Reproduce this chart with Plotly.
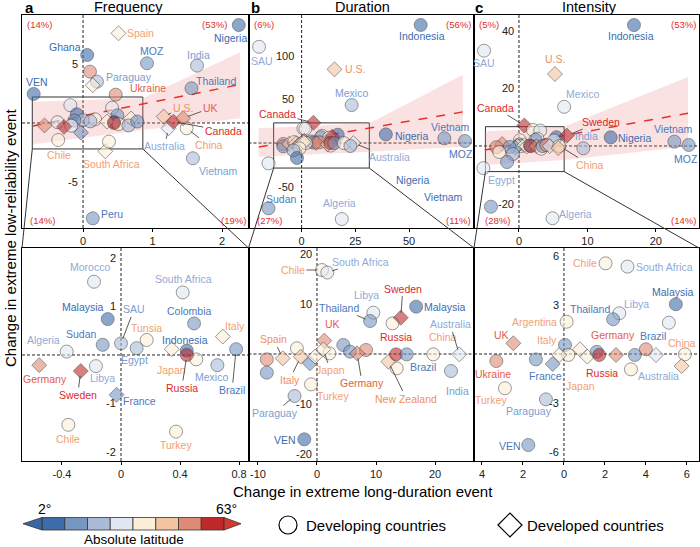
import plotly.graph_objects as go

W, H = 700, 547
FONT = "Liberation Sans, Arial, Helvetica, sans-serif"

# latitude bins (2 deg .. 63 deg, 8 classes)
BIN_FILL = ['#3d6ca9', '#7797c3', '#a9bbd9', '#e0e7f2', '#fcefd9', '#f4c3a0', '#df8a74', '#c0292c']
BIN_TEXT = ['#3b6cb0', '#4c79bb', '#7c9dcf', '#90aad6', '#f2a073', '#ee8f5c', '#e35d48', '#d9292a']

# ---------------- Frequency ----------------
freq_name = ["Australia", "Nigeria", "Spain", "Ghana", "MOZ", "India", "p1", "Paraguay", "p2", "VEN",
             "Thailand", "Ukraine", "China", "U.S.", "Canada", "UK", "Vietnam", "Peru", "p3",
             "Morocco", "South Africa", "Malaysia", "SAU", "Colombia", "Sudan", "Algeria", "Tunsia",
             "Egypt", "Italy", "Indonesia", "Japan", "p4", "Russia", "Mexico", "Brazil", "Germany",
             "Libya", "Sweden", "France", "Chile", "Turkey"]
freq_x = [1.23, 2.24, 0.51, 0.06, 0.92, 1.64, 0.10, 0.20, 0.14, -0.71,
          1.56, 0.47, 1.49, 1.16, 1.30, 1.44, 1.58, 0.14, 0.32,
          -0.183, 0.418, -0.09, 0.0, 0.495, -0.124, -0.368, 0.174,
          0.106, 0.69, 0.446, 0.344, 0.51, 0.446, 0.653, 0.78, -0.554,
          -0.17, -0.273, -0.03, -0.357, 0.373]
freq_y = [-0.45, 8.3, 7.6, 5.76, 5.06, 4.86, 4.35, 3.5, 3.2, 2.46,
          2.94, 2.4, -0.45, 0.54, 0.11, 0.4, -2.99, -8.08, -2.4,
          1.51, 1.29, 0.74, 0.24, 0.65, 0.21, 0.07, 0.31,
          0.14, 0.38, 0.09, 0.12, -0.09, 0.0, -0.21, 0.12, -0.21,
          -0.23, -0.33, -0.82, -1.44, -1.58]
freq_bin = [3, 0, 4, 0, 1, 2, 6, 2, 4, 0,
            1, 6, 4, 5, 7, 6, 2, 1, 4,
            3, 3, 0, 2, 1, 1, 3, 4,
            2, 4, 0, 4, 4, 7, 2, 1, 6,
            3, 7, 1, 4, 4]
freq_dev = [1, 0, 1, 0, 0, 0, 0, 0, 1, 0,
            0, 0, 0, 1, 1, 1, 0, 0, 1,
            0, 0, 0, 0, 0, 0, 0, 0,
            0, 1, 0, 1, 0, 0, 0, 0, 1,
            0, 1, 1, 0, 0]

# ---------------- Duration ----------------
dur_name = ["Indonesia", "SAU", "U.S.", "Mexico", "Canada", "Nigeria", "Vietnam", "MOZ", "Sudan",
            "Algeria", "Egypt", "Chile", "South Africa", "Libya", "Thailand", "Malaysia", "q1",
            "Sweden", "q2", "q3", "q4", "Germany", "UK", "q5", "New Zealand", "Russia", "Brazil",
            "China", "Australia", "India", "q6", "q7", "Spain", "q8", "Italy", "France", "q9",
            "q10", "Japan", "Turkey", "Paraguay", "VEN"]
dur_x = [55.4, -19.8, 15.3, 23.3, 5.5, 39.2, 66.4, 76.0, -15.4,
         18.7, -15.4, 0.85, 1.75, 9.55, 9.0, 16.8, 12.8,
         14.2, 4.46, 5.6, 8.3, 6.8, 1.24, 13.5, 12.1, 13.4, 15.2,
         19.7, 24.1, 22.7, -8.5, -8.5, -5.8, -3.4, -2.76, -1.19, -0.34,
         2.1, 1.07, -1.0, -3.8, -2.15]
dur_y = [134.9, 110.0, 84.2, 43.4, 23.2, 9.9, 5.4, 2.3, -74.6,
         -86.9, -23.2, 16.8, 16.3, 8.27, 6.6, 9.47, 6.13,
         7.27, 1.8, 0.47, 0.8, 0.13, 2.67, -2.87, -1.53, -0.07, -0.07,
         -0.07, -0.07, -3.4, -1.07, -3.73, -0.87, 1.13, -0.53, -1.87, -0.53,
         0.13, 0.93, -6.07, -8.4, -17.07]
dur_bin = [0, 3, 5, 2, 7, 0, 1, 1, 1,
           3, 3, 4, 3, 3, 1, 0, 4,
           7, 1, 1, 6, 6, 6, 4, 5, 7, 1,
           4, 3, 2, 6, 1, 5, 4, 5, 1, 4,
           4, 4, 4, 2, 0]
dur_dev = [0, 0, 1, 0, 1, 0, 0, 0, 0,
           0, 0, 0, 0, 0, 0, 0, 0,
           1, 0, 0, 0, 1, 1, 0, 1, 0, 0,
           0, 1, 0, 0, 0, 1, 0, 1, 1, 1,
           0, 1, 0, 0, 0]

# ---------------- Intensity ----------------
int_name = ["Indonesia", "SAU", "U.S.", "Mexico", "Canada", "India", "Nigeria", "Vietnam", "MOZ",
            "Egypt", "r1", "Algeria", "Chile", "South Africa", "Malaysia", "Sweden", "Libya",
            "Thailand", "Argentina", "r2", "UK", "r3", "r4", "Italy", "France", "r5", "Ukraine",
            "Turkey", "Paraguay", "VEN", "r6", "r7", "r8", "Russia", "Germany", "r9", "Brazil",
            "r10", "Australia", "China", "r11"]
int_x = [16.8, -5.1, 5.26, 6.6, 0.78, 9.4, 13.4, 22.7, 24.8,
         -5.2, -4.1, 4.9, 2.03, 3.1, 5.46, 7.0, 2.7,
         2.4, 0.13, 5.12, -2.47, 0.05, 0.21, -0.23, -0.55, -1.37, -3.3,
         -2.88, -0.88, -1.74, 0.78, 1.14, 1.6, 1.72, 2.54, 3.27, 3.46,
         4.0, 4.49, 5.9, 5.74]
int_y = [42.0, 33.1, 25.0, 13.6, 7.1, -0.8, 3.0, 1.5, 0.35,
         -7.7, -21.1, -25.1, 5.56, 5.36, 3.05, 3.6, 2.5,
         2.13, 1.98, 1.92, 0.66, 0.55, -0.06, -0.06, -0.61, -0.33, -0.43,
         -2.1, -2.78, -5.58, 0.29, -0.16, 0.14, -0.06, -0.06, -0.94, -0.06,
         0.29, -0.06, -0.02, -0.74]
int_bin = [0, 3, 5, 3, 7, 2, 0, 1, 1,
           3, 1, 3, 4, 3, 0, 7, 3,
           1, 4, 3, 6, 1, 4, 4, 1, 1, 6,
           4, 2, 1, 4, 4, 1, 7, 6, 4, 1,
           6, 3, 4, 5]
int_dev = [0, 0, 1, 0, 1, 0, 0, 0, 0,
           0, 0, 0, 0, 0, 0, 1, 0,
           0, 0, 0, 1, 0, 0, 1, 1, 0, 0,
           0, 0, 0, 1, 1, 0, 0, 1, 0, 0,
           0, 1, 0, 1]

# regression line and confidence band (top panels)
reg_x = [[-0.72, 2.21], [-19.9, 75.0], [-5.0, 24.7]]
reg_y = [[-0.25, 3.2], [-4.6, 35.6], [-1.4, 11.4]]
band_x = [[-0.72, 0.86, 2.26], [-20.0, 31.6, 75.0], [-5.0, 6.6, 24.7]]
band_hi = [[1.8, 2.1, 6.0], [16.9, 22.5, 78.0], [5.0, 6.7, 24.0]]
band_lo = [[-1.8, -0.6, 0.4], [-15.7, -10.0, -4.2], [-6.6, -4.9, -0.2]]

# zoom rectangles in top panels
zoom_x = [[-0.73, 0.86], [-13.0, 31.5], [-4.9, 6.6]]
zoom_y = [[-2.2, 2.2], [-28.6, 23.0], [-8.9, 6.7]]

# quadrant shares
quad_text = [["(14%)", "(53%)", "(14%)", "(19%)"],
             ["(6%)", "(56%)", "(27%)", "(11%)"],
             ["(5%)", "(53%)", "(28%)", "(14%)"]]

titles = ["Frequency", "Duration", "Intensity"]
letters = ["a", "b", "c"]

# axis ticks
x_tickvals = [[0, 1, 2], [0, 25, 50], [0, 10, 20], [-0.4, 0, 0.4, 0.8], [-10, 0, 10, 20], [-4, -2, 0, 2, 4, 6]]
x_ticktext = [["0", "1", "2"], ["0", "25", "50"], ["0", "10", "20"], ["-0.4", "0", "0.4", "0.8"],
              ["-10", "0", "10", "20"], ["4", "2", "0", "2", "4", "6"]]
y_tickvals = [[5, -5], [100, 50, -50], [40, 20, -20], [2, 1, -1, -2], [20, 10, -10, -20], [6, 3, -3, -6]]
y_ticktext = [["5", "-5"], ["100", "50", "-50"], ["40", "20", "-20"], ["2", "1", "-1", "-2"],
              ["20", "10", "-10", "-20"], ["6", "3", "-3", "-6"]]

# labels: (point id, text, dx px, dy px (down), leader)
labels = {
    1: [("Nigeria", "Nigeria", -8, 13, 0), ("Spain", "Spain", 22, 0, 0), ("Ghana", "Ghana", -22, -8, 0),
        ("MOZ", "MOZ", 5, -12, 0), ("India", "India", 1, -11, 0), ("Paraguay", "Paraguay", 32, -5, 0),
        ("VEN", "VEN", 3, -12, 0), ("Thailand", "Thailand", 25, -7, 0), ("Ukraine", "Ukraine", 32, -7, 0),
        ("U.S.", "U.S.", 19, -9, 1), ("UK", "UK", 27, -10, 1), ("Canada", "Canada", 50, 9, 1),
        ("China", "China", 22, 17, 1), ("Australia", "Australia", -4, 18, 1), ("Vietnam", "Vietnam", 26, 13, 0),
        ("Chile", "Chile", 1, 15, 0), ("p3", "South Africa", 6, 13, 0), ("Peru", "Peru", 19, -4, 0)],
    2: [("Indonesia", "Indonesia", 1, 11, 0), ("SAU", "SAU", 3, 14, 0), ("U.S.", "U.S.", 21, 0, 0),
        ("Mexico", "Mexico", 0, -12, 0), ("Canada", "Canada", -36, -9, 1), ("Nigeria", "Nigeria", 26, 2, 0),
        ("Vietnam", "Vietnam", 6, -11, 0), ("MOZ", "MOZ", -4, 13, 0), ("Australia", "Australia", 36, 14, 1),
        ("Sudan", "Sudan", 13, -9, 0), ("Algeria", "Algeria", -2, -16, 0)],
    3: [("Indonesia", "Indonesia", -3, 11, 0), ("SAU", "SAU", 0, 12, 0), ("U.S.", "U.S.", 0, -15, 0),
        ("Mexico", "Mexico", 18, -13, 0), ("Canada", "Canada", -29, -18, 1), ("Sweden", "Sweden", 34, -14, 1),
        ("India", "India", 3, -12, 0), ("Nigeria", "Nigeria", 24, 1, 0), ("Vietnam", "Vietnam", -1, -13, 0),
        ("MOZ", "MOZ", -3, 14, 0), ("China", "China", 31, 19, 1), ("Egypt", "Egypt", 18, 12, 0),
        ("Algeria", "Algeria", 23, -4, 0)],
    4: [("Morocco", "Morocco", -4, -15, 0), ("South Africa", "South Africa", 1, -13, 0),
        ("Malaysia", "Malaysia", -25, -12, 0), ("SAU", "SAU", 13, -34, 1), ("Colombia", "Colombia", -5, -12, 0),
        ("Sudan", "Sudan", -21, -11, 0), ("Algeria", "Algeria", -23, -12, 0), ("Tunsia", "Tunsia", 0, -12, 0),
        ("Egypt", "Egypt", -2, 12, 0), ("Italy", "Italy", 12, -11, 0), ("Indonesia", "Indonesia", -2, -11, 0),
        ("Japan", "Japan", 0, 21, 0), ("Russia", "Russia", -5, 33, 1), ("Mexico", "Mexico", -6, 12, 0),
        ("Brazil", "Brazil", -4, 41, 1), ("Germany", "Germany", 6, 14, 0), ("Libya", "Libya", 7, 12, 0),
        ("Sweden", "Sweden", -3, 24, 1), ("France", "France", 23, 6, 0), ("Chile", "Chile", 0, 14, 0),
        ("Turkey", "Turkey", 0, 13, 0)],
    5: [("Chile", "Chile", -29, 0, 1), ("South Africa", "South Africa", 33, -11, 1), ("Libya", "Libya", -7, -18, 0),
        ("Thailand", "Thailand", -31, -13, 1), ("Malaysia", "Malaysia", 29, 0, 0), ("Sweden", "Sweden", 2, -29, 1),
        ("UK", "UK", 8, -17, 0), ("Russia", "Russia", 0, -17, 0), ("China", "China", 10, -17, 0),
        ("Australia", "Australia", -9, -30, 1), ("Brazil", "Brazil", 16, 13, 0), ("Germany", "Germany", 5, 30, 1),
        ("New Zealand", "New Zealand", 18, 37, 1), ("India", "India", 7, 20, 0), ("Spain", "Spain", -9, -19, 1),
        ("Italy", "Italy", -11, 23, 1), ("Japan", "Japan", 7, 21, 1), ("Turkey", "Turkey", 22, 12, 0),
        ("Paraguay", "Paraguay", -20, 17, 1), ("VEN", "VEN", -19, 1, 0)],
    6: [("Chile", "Chile", -21, 0, 0), ("South Africa", "South Africa", 37, 0, 0), ("Malaysia", "Malaysia", -3, -12, 0),
        ("Libya", "Libya", 17, -9, 0), ("Thailand", "Thailand", -23, -10, 0), ("Argentina", "Argentina", -32, 0, 0),
        ("UK", "UK", -12, -8, 0), ("Italy", "Italy", -12, -15, 0), ("Germany", "Germany", -3, -20, 0),
        ("Brazil", "Brazil", 18, -19, 0), ("China", "China", -3, -11, 0), ("France", "France", -7, 12, 0),
        ("r4", "Japan", 12, 31, 0), ("Russia", "Russia", 3, 18, 0), ("Australia", "Australia", 3, 21, 0),
        ("Ukraine", "Ukraine", -3, 13, 0), ("Turkey", "Turkey", -14, 12, 0), ("Paraguay", "Paraguay", -17, 12, 0),
        ("VEN", "VEN", -18, 1, 0)],
}
# stray labels in panel b
extra_text = ["Nigeria", "Vietnam"]
extra_x = [51.7, 66.0]
extra_y = [-42.3, -61.4]

# ---------------- layout geometry (pixels) ----------------
PX_X = [(22, 248.5), (248.5, 474), (474, 699)]
PX_Y = [(15, 228), (248, 461)]
RANGES_X = [[-0.878, 2.38], [-24.7, 80.2], [-6.57, 26.3], [-0.671, 0.864], [-11.6, 26.6], [-4.39, 6.59]]
RANGES_Y = [[-8.9, 9.15], [-97.1, 146.3], [-28.5, 45.5], [-2.186, 2.206], [-21.4, 21.2], [-6.56, 6.5]]


def fx(px):
    return px / W


def fy(py):
    return 1 - py / H


def rgba(hexc, a):
    h = hexc.lstrip('#')
    return f'rgba({int(h[0:2], 16)},{int(h[2:4], 16)},{int(h[4:6], 16)},{a})'


def sfx(n):
    return '' if n == 1 else str(n)


def dom(n):
    col = (n - 1) % 3
    row = (n - 1) // 3
    xd = [fx(PX_X[col][0]), fx(PX_X[col][1])]
    yd = [fy(PX_Y[row][1]), fy(PX_Y[row][0])]
    return xd, yd


def to_paper(n, x, y):
    xd, yd = dom(n)
    xr, yr = RANGES_X[n - 1], RANGES_Y[n - 1]
    return (xd[0] + (x - xr[0]) / (xr[1] - xr[0]) * (xd[1] - xd[0]),
            yd[0] + (y - yr[0]) / (yr[1] - yr[0]) * (yd[1] - yd[0]))


def paper_text(px, py, text, size, xanchor='center', **kw):
    return dict(xref='paper', yref='paper', x=fx(px), y=fy(py), text=text, showarrow=False,
                xanchor=xanchor, yanchor='middle', font=dict(family=FONT, size=size, color='black'), **kw)


fig = go.Figure()
shapes, anns = [], []
datasets = [(freq_name, freq_x, freq_y, freq_bin, freq_dev),
            (dur_name, dur_x, dur_y, dur_bin, dur_dev),
            (int_name, int_x, int_y, int_bin, int_dev)]

for k, (nm, xs, ys, bs, dv) in enumerate(datasets):
    for row in (0, 1):
        n = row * 3 + k + 1
        s = sfx(n)
        if row == 0:
            bx = band_x[k] + band_x[k][::-1]
            by = band_hi[k] + band_lo[k][::-1]
            fig.add_trace(go.Scatter(x=bx, y=by, xaxis='x' + s, yaxis='y' + s, mode='lines', fill='toself',
                                     fillcolor='rgba(240,140,140,0.25)', line=dict(width=0),
                                     hoverinfo='skip', showlegend=False))
            fig.add_trace(go.Scatter(x=reg_x[k], y=reg_y[k], xaxis='x' + s, yaxis='y' + s, mode='lines',
                                     line=dict(color='#e8312a', width=1.5, dash='dash'),
                                     hoverinfo='skip', showlegend=False))
        fig.add_trace(go.Scatter(
            x=xs, y=ys, xaxis='x' + s, yaxis='y' + s, mode='markers', text=nm, showlegend=False,
            cliponaxis=True,
            marker=dict(color=[rgba(BIN_FILL[b], 0.85) for b in bs],
                        symbol=['diamond' if d else 'circle' for d in dv],
                        size=[11.5 if d else 13 for d in dv],
                        line=dict(color='rgba(45,45,45,0.85)', width=0.8))))
        # labels
        for pid, txt, dx, dy, lead in labels[n]:
            i = nm.index(pid)
            common = dict(x=xs[i], y=ys[i], xref='x' + s, yref='y' + s, text=txt,
                          font=dict(family=FONT, size=10.5, color=BIN_TEXT[bs[i]]))
            if lead:
                anns.append(dict(**common, showarrow=True, arrowhead=0, arrowwidth=0.8, arrowcolor='#333',
                                 ax=dx, ay=dy, standoff=5))
            else:
                anns.append(dict(**common, showarrow=False, xshift=dx, yshift=-dy))

# stray labels
for t, x, y in zip(extra_text, extra_x, extra_y):
    anns.append(dict(x=x, y=y, xref='x2', yref='y2', text=t, showarrow=False,
                     font=dict(family=FONT, size=10.5, color=BIN_TEXT[0])))

# axes
layout_axes = {}
for n in range(1, 7):
    s = sfx(n)
    xd, yd = dom(n)
    layout_axes['xaxis' + s] = dict(domain=xd, range=RANGES_X[n - 1], showgrid=False, zeroline=False,
                                    showline=True, mirror=True, linecolor='black', linewidth=1,
                                    ticks='outside', ticklen=3, tickwidth=1, tickcolor='black',
                                    tickvals=x_tickvals[n - 1], ticktext=x_ticktext[n - 1],
                                    tickfont=dict(family=FONT, size=11, color='#222'),
                                    anchor='y' + s, fixedrange=True, automargin=False)
    layout_axes['yaxis' + s] = dict(domain=yd, range=RANGES_Y[n - 1], showgrid=False, zeroline=False,
                                    showline=True, mirror=True, linecolor='black', linewidth=1,
                                    showticklabels=False, ticks='', anchor='x' + s, fixedrange=True,
                                    automargin=False)
    # dashed zero lines
    shapes.append(dict(type='line', xref='x' + s, yref='y' + s + ' domain', x0=0, x1=0, y0=0, y1=1,
                       line=dict(color='#222', width=1, dash='3px,2px'), layer='below'))
    shapes.append(dict(type='line', xref='x' + s + ' domain', yref='y' + s, x0=0, x1=1, y0=0, y1=0,
                       line=dict(color='#222', width=1, dash='3px,2px'), layer='below'))
    # y tick labels along x = 0
    for v, t in zip(y_tickvals[n - 1], y_ticktext[n - 1]):
        anns.append(dict(x=0, y=v, xref='x' + s, yref='y' + s, text=t, showarrow=False, xanchor='right',
                         yanchor='middle', xshift=-6 if n == 2 else -3,
                         font=dict(family=FONT, size=11, color='#222')))

# zoom rectangles + connectors
for k in range(3):
    s = sfx(k + 1)
    shapes.append(dict(type='rect', xref='x' + s, yref='y' + s, x0=zoom_x[k][0], x1=zoom_x[k][1],
                       y0=zoom_y[k][0], y1=zoom_y[k][1], line=dict(color='#333', width=1), layer='below'))
    bl = to_paper(k + 1, zoom_x[k][0], zoom_y[k][0])
    br = to_paper(k + 1, zoom_x[k][1], zoom_y[k][0])
    xd, yd = dom(k + 4)
    shapes.append(dict(type='line', xref='paper', yref='paper', x0=bl[0], y0=bl[1], x1=xd[0], y1=yd[1],
                       line=dict(color='#333', width=1)))
    shapes.append(dict(type='line', xref='paper', yref='paper', x0=br[0], y0=br[1], x1=xd[1], y1=yd[1],
                       line=dict(color='#333', width=1)))

# quadrant percentages
quad_pos = [
    [(0, 'left', 3), (1, 'right', -20), (0, 'left', 6), (1, 'right', -1)],
    [(0, 'left', 3), (1, 'right', -1), (0, 'left', 6.5), (1, 'right', -1)],
    [(0, 'left', 2.7), (1, 'right', -1.3), (0, 'left', 9), (1, 'right', -1)],
]
for k in range(3):
    s = sfx(k + 1)
    for j in range(4):
        xdv, xa, xs_ = quad_pos[k][j]
        top = j < 2
        anns.append(dict(xref='x' + s + ' domain', yref='y' + s + ' domain', x=xdv, y=1 if top else 0,
                         xanchor=xa, yanchor='middle', xshift=xs_, yshift=-9.5 if top else 7.5,
                         text=quad_text[k][j], showarrow=False,
                         font=dict(family=FONT, size=9.5, color='#e0302a')))

# panel titles
title_cx = [128, 362, 589]
letter_x = [23, 248.5, 472.5]
for k in range(3):
    anns.append(paper_text(title_cx[k], 7, titles[k], 14.5))
    anns.append(paper_text(letter_x[k], 7, '<b>' + letters[k] + '</b>', 15, xanchor='left'))

# axis titles
anns.append(paper_text(362.5, 492, 'Change in extreme long-duration event', 15))
anns.append(paper_text(10, 238, 'Change in extreme low-reliability event', 15, textangle=-90))

# colour bar (legend)
cb_l, cb_r, cb_t, cb_b = 42, 224, 517.5, 530
tip_l, tip_r = 23, 241
bw = (cb_r - cb_l) / len(BIN_FILL)
for i, c in enumerate(BIN_FILL):
    shapes.append(dict(type='rect', xref='paper', yref='paper', x0=fx(cb_l + i * bw), x1=fx(cb_l + (i + 1) * bw),
                       y0=fy(cb_b), y1=fy(cb_t), fillcolor=c, line=dict(color='#333', width=0.8)))
ym = (cb_t + cb_b) / 2
shapes.append(dict(type='path', xref='paper', yref='paper',
                   path=f'M {fx(tip_l)} {fy(ym)} L {fx(cb_l)} {fy(cb_t)} L {fx(cb_l)} {fy(cb_b)} Z',
                   fillcolor='#3a67a3', line=dict(color='#333', width=0.8)))
shapes.append(dict(type='path', xref='paper', yref='paper',
                   path=f'M {fx(tip_r)} {fy(ym)} L {fx(cb_r)} {fy(cb_t)} L {fx(cb_r)} {fy(cb_b)} Z',
                   fillcolor='#d23a2e', line=dict(color='#333', width=0.8)))
anns.append(paper_text(44, 509, '2°', 14))
anns.append(paper_text(226, 509, '63°', 14))
anns.append(paper_text(134, 539, 'Absolute latitude', 13.5))

# marker-shape legend
shapes.append(dict(type='circle', xref='paper', yref='paper', x0=fx(279), x1=fx(297), y0=fy(534), y1=fy(516),
                   fillcolor='white', line=dict(color='black', width=1.2)))
cx, cy, hw = 510, 525, 12
shapes.append(dict(type='path', xref='paper', yref='paper',
                   path=f'M {fx(cx - hw)} {fy(cy)} L {fx(cx)} {fy(cy - hw)} L {fx(cx + hw)} {fy(cy)} L {fx(cx)} {fy(cy + hw)} Z',
                   fillcolor='white', line=dict(color='black', width=1.2)))
anns.append(paper_text(304, 525, 'Developing countries', 15, xanchor='left'))
anns.append(paper_text(525, 525, 'Developed countries', 15, xanchor='left'))

fig.update_layout(width=W, height=H, margin=dict(l=0, r=0, t=0, b=0, pad=0),
                  paper_bgcolor='white', plot_bgcolor='white', showlegend=False,
                  font=dict(family=FONT), shapes=shapes, annotations=anns, **layout_axes)

fig.write_html("out.html", config={'displayModeBar': False},
               post_script="document.body.style.margin='0px';document.body.style.overflow='hidden';")
